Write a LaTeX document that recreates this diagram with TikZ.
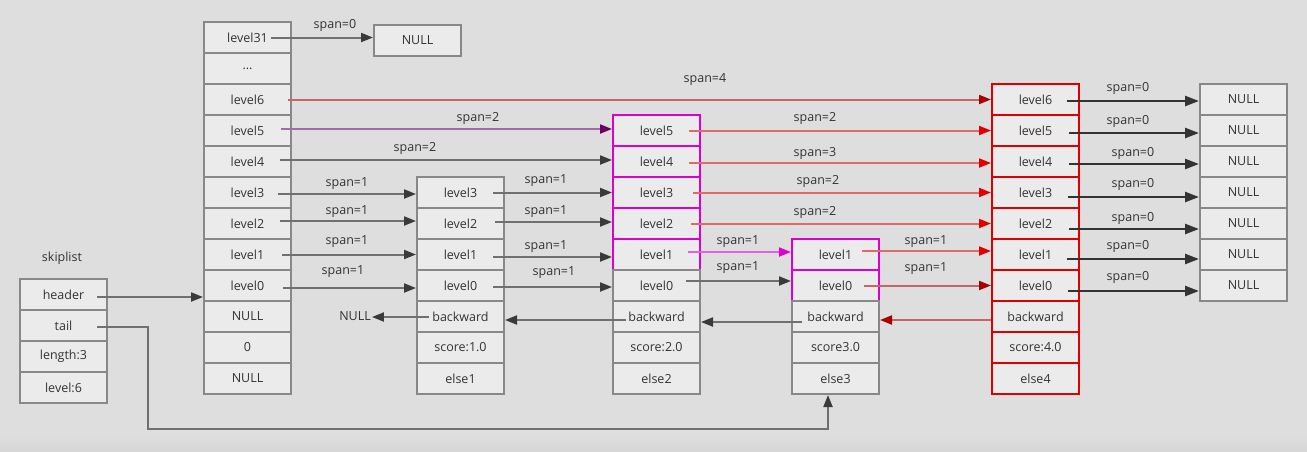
\documentclass[tikz,border=0pt]{standalone}
\usepackage{fontspec}
\setmainfont{Open Sans}
\usetikzlibrary{arrows.meta}

\definecolor{bgc}{HTML}{DEDEDE}
\definecolor{bgbot}{HTML}{D5D5D5}
\definecolor{cellfill}{HTML}{EBEBEB}
\definecolor{cellline}{HTML}{888888}
\definecolor{magline}{HTML}{DD00CC}
\definecolor{redline}{HTML}{DD0000}
\definecolor{txt}{HTML}{333333}
\definecolor{graylink}{HTML}{707070}
\definecolor{grayhead}{HTML}{3A3A3A}
\definecolor{darklink}{HTML}{333333}
\definecolor{redlink}{HTML}{DE6A6A}
\definecolor{redhead}{HTML}{E00000}
\definecolor{brownlink}{HTML}{C46666}
\definecolor{brownhead}{HTML}{A80000}
\definecolor{purplelink}{HTML}{A66AA6}
\definecolor{purplehead}{HTML}{6B0063}
\definecolor{maglink}{HTML}{E260E2}
\definecolor{maghead}{HTML}{E000D0}

% horizontal pointer from inside a cell to the west side of another cell
\newcommand\fwd[5]{%
  \draw[#1] ([xshift=-#5pt,yshift=#4pt]#2.east) -- ([yshift=#4pt]#2.east -| #3.west);}
% backward pointer from a cell to the east side of the previous one
\newcommand\bwd[5]{%
  \draw[#1] ([xshift=#5pt,yshift=#4pt]#2.west) -- ([yshift=#4pt]#2.west -| #3.east);}

\begin{document}
\begin{tikzpicture}[x=1pt,y=-1pt,
  txtfont/.style={font=\fontsize{12.5}{15}\selectfont},
  cell/.style={draw=cellline, fill=cellfill, line width=2pt,
    minimum width=87pt, minimum height=31pt, inner sep=0pt, text=txt, txtfont},
  magcell/.style={cell, draw=magline},
  redcell/.style={cell, draw=redline},
  plain/.style={text=txt, txtfont, inner sep=1pt},
  spanlbl/.style={text=txt, txtfont, inner sep=0pt},
  graylnk/.style={line width=2pt, draw=graylink,
    -{Triangle[length=12pt,width=9pt,color=grayhead]}},
  darklnk/.style={line width=2.4pt, draw=darklink,
    -{Triangle[length=14pt,width=10pt,color=darklink]}},
  redlnk/.style={line width=2pt, draw=redlink,
    -{Triangle[length=12pt,width=9pt,color=redhead]}},
  brownlnk/.style={line width=2pt, draw=brownlink,
    -{Triangle[length=12pt,width=9pt,color=brownhead]}},
  purplelnk/.style={line width=2pt, draw=purplelink,
    -{Triangle[length=12pt,width=9pt,color=purplehead]}},
  maglnk/.style={line width=2pt, draw=maglink,
    -{Triangle[length=12pt,width=9pt,color=maghead]}},
]
% canvas
\fill[bgc] (0,0) rectangle (1307,451);
\shade[top color=bgc, bottom color=bgbot] (0,437) rectangle (1307,451);
\useasboundingbox (0,0) rectangle (1307,451);

% skiplist structure
\node[plain] (title) at (62,258) {skiplist};
\foreach \t [count=\i from 0] in {header,tail,length:3,level:6}
  \node[cell] (s\i) at (63.5,{294.5+31*\i}) {\t};

% header node
\foreach \t [count=\i from 0] in {level31,\ldots,level6,level5,level4,level3,level2,level1,level0,NULL,0,NULL}
  \node[cell] (h\i) at (247.5,{37.5+31*\i}) {\t};
\node[cell] (nb) at (417.5,40.5) {NULL};

% node with score 1.0
\foreach \t [count=\i from 0] in {level3,level2,level1,level0,backward,score:1.0,else1}
  \node[cell] (a\i) at (460.5,{192.5+31*\i}) {\t};

% node with score 2.0
\foreach \t [count=\i from 0] in {level5,level4,level3,level2,level1}
  \node[magcell] (b\i) at (656.5,{130.5+31*\i}) {\t};
\foreach \t [count=\i from 5] in {level0,backward,score:2.0,else2}
  \node[cell] (b\i) at (656.5,{130.5+31*\i}) {\t};

% node with score 3.0
\foreach \t [count=\i from 0] in {level1,level0}
  \node[magcell] (c\i) at (835.5,{254.5+31*\i}) {\t};
\foreach \t [count=\i from 2] in {backward,score3.0,else3}
  \node[cell] (c\i) at (835.5,{254.5+31*\i}) {\t};

% node with score 4.0
\foreach \t [count=\i from 0] in {level6,level5,level4,level3,level2,level1,level0,backward,score:4.0,else4}
  \node[redcell] (d\i) at (1035.5,{99.5+31*\i}) {\t};

% terminating NULL pointers
\foreach \i in {0,...,6}
  \node[cell] (n\i) at (1243.5,{99.5+31*\i}) {NULL};

% skiplist -> header / tail
\fwd{graylnk}{s0}{h8}{-2.5}{11}
\draw[line width=2pt, draw=graylink, -{Triangle[length=12pt,width=9pt,color=grayhead]}]
  ([xshift=-11pt,yshift=-1.5pt]s1.east) -| (148,429) -| ([xshift=-7.5pt]c4.south);

% header forward pointers
\fwd{graylnk}{h0}{nb}{0}{21}
\node[spanlbl] at (335,25) {span=0};
\fwd{brownlnk}{h2}{d0}{0}{4}
\node[spanlbl] at (705,80) {span=4};
\fwd{purplelnk}{h3}{b0}{1.5}{11}
\node[spanlbl] at (478,118) {span=2};
\fwd{graylnk}{h4}{b1}{1.5}{12}
\node[spanlbl] at (415,148) {span=2};
\fwd{graylnk}{h5}{a0}{-1.5}{14}
\node[spanlbl] at (347,184) {span=1};
\fwd{graylnk}{h6}{a1}{2.5}{12}
\node[spanlbl] at (347,212) {span=1};
\fwd{graylnk}{h7}{a2}{0}{10}
\node[spanlbl] at (347,242) {span=1};
\fwd{graylnk}{h8}{a3}{-2.5}{9}
\node[spanlbl] at (343,272) {span=1};

% score 1.0 -> score 2.0
\fwd{graylnk}{a0}{b2}{0}{12}
\node[spanlbl] at (546,181) {span=1};
\fwd{graylnk}{a1}{b3}{1.5}{10}
\node[spanlbl] at (546,212) {span=1};
\fwd{graylnk}{a2}{b4}{-2.5}{12}
\node[spanlbl] at (546,247) {span=1};
\fwd{graylnk}{a3}{b5}{-1.5}{12}
\node[spanlbl] at (554,273) {span=1};

% score 2.0 -> score 3.0 / score 4.0
\fwd{redlnk}{b0}{d1}{0}{12}
\node[spanlbl] at (815,118) {span=2};
\fwd{redlnk}{b1}{d2}{-1.5}{12}
\node[spanlbl] at (815,153) {span=3};
\fwd{redlnk}{b2}{d3}{0}{8}
\node[spanlbl] at (818,181) {span=2};
\fwd{redlnk}{b3}{d4}{0}{10}
\node[spanlbl] at (815,212) {span=2};
\fwd{maglnk}{b4}{c0}{2.5}{13}
\node[spanlbl] at (738,242) {span=1};
\fwd{graylnk}{b5}{c1}{4.5}{15}
\node[spanlbl] at (738,268) {span=1};

% score 3.0 -> score 4.0
\fwd{redlnk}{c0}{d5}{3.5}{18}
\node[spanlbl] at (926,242) {span=1};
\fwd{brownlnk}{c1}{d6}{0}{16}
\node[spanlbl] at (926,269) {span=1};

% score 4.0 -> NULL
\fwd{darklnk}{d0}{n0}{-1.5}{13}
\node[spanlbl] at (1128,88) {span=0};
\fwd{darklnk}{d1}{n1}{-2.5}{11}
\node[spanlbl] at (1128,121) {span=0};
\fwd{darklnk}{d2}{n2}{-2.5}{11}
\node[spanlbl] at (1133,153) {span=0};
\fwd{darklnk}{d3}{n3}{-4.5}{12}
\node[spanlbl] at (1133,184) {span=0};
\fwd{darklnk}{d4}{n4}{-5.5}{11}
\node[spanlbl] at (1133,218) {span=0};
\fwd{darklnk}{d5}{n5}{-4.5}{13}
\node[spanlbl] at (1128,246) {span=0};
\fwd{darklnk}{d6}{n6}{-5.5}{12}
\node[spanlbl] at (1128,277) {span=0};

% backward pointers
\node[plain] (bnull) at (355,316) {NULL};
\bwd{brownlnk}{d7}{c2}{-3.5}{0}
\bwd{graylnk}{c2}{b6}{-5.5}{11}
\bwd{graylnk}{b6}{a4}{-3.5}{14}
\bwd{graylnk}{a4}{bnull}{-0.5}{13}
\end{tikzpicture}
\end{document}
